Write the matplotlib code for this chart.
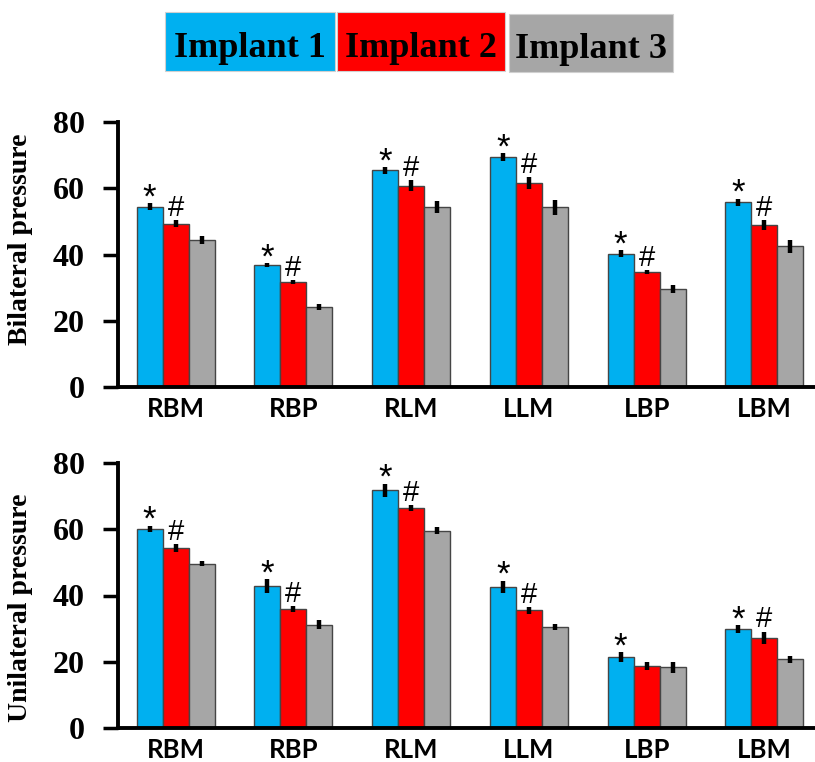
import numpy as np
import matplotlib.pyplot as plt
from matplotlib.patches import Rectangle

categories = ["RBM", "RBP", "RLM", "LLM", "LBP", "LBM"]
series = ["Implant 1", "Implant 2", "Implant 3"]

# bilateral pressure (top panel)
bi_imp1 = [54.4, 36.7, 65.4, 69.4, 40.3, 55.7]
bi_imp2 = [49.3, 31.7, 60.8, 61.6, 34.6, 48.8]
bi_imp3 = [44.4, 24.1, 54.3, 54.3, 29.5, 42.5]
bi_err1 = [1.1, 0.6, 1.0, 1.1, 1.0, 1.2]
bi_err2 = [1.0, 0.7, 1.6, 1.7, 0.6, 1.5]
bi_err3 = [1.1, 1.0, 1.8, 2.3, 1.2, 1.9]
bi_star = [1, 1, 1, 1, 1, 1]
bi_hash = [1, 1, 1, 1, 1, 1]

# unilateral pressure (bottom panel)
uni_imp1 = [60.1, 42.8, 71.8, 42.6, 21.4, 29.9]
uni_imp2 = [54.3, 35.9, 66.4, 35.5, 18.7, 27.2]
uni_imp3 = [49.6, 31.2, 59.6, 30.5, 18.3, 20.7]
uni_err1 = [1.0, 2.1, 2.0, 1.9, 1.5, 1.1]
uni_err2 = [1.2, 0.8, 1.0, 1.0, 1.2, 1.9]
uni_err3 = [0.7, 1.3, 1.0, 1.0, 1.6, 1.1]
uni_star = [1, 1, 1, 1, 1, 1]
uni_hash = [1, 1, 1, 1, 0, 1]

colors = ["#00B0F0", "#FF0000", "#A6A6A6"]
edge = "#454545"
serif = "Liberation Serif"
sans = "Lato"

W, H = 815, 762
fig = plt.figure(figsize=(W / 100, H / 100), dpi=100)

def draw_panel(ax, vals, errs, stars, hashes, ylabel, label_y):
    x = np.arange(len(categories))
    w = 0.221
    for k in range(3):
        ax.bar(x + (k - 1) * w, vals[k], w, color=colors[k], edgecolor=edge,
               linewidth=1.0, zorder=2)
        ax.errorbar(x + (k - 1) * w, vals[k], yerr=errs[k], fmt="none",
                    ecolor="black", elinewidth=3.2, capsize=0, zorder=3)
    for i in range(len(categories)):
        if stars[i]:
            ax.annotate("*", (x[i] - w, vals[0][i] + errs[0][i]), xytext=(0, -3),
                        textcoords="offset points", ha="center", va="baseline",
                        fontsize=25, family="Liberation Sans")
        if hashes[i]:
            ax.annotate("#", (x[i], vals[1][i] + errs[1][i]), xytext=(0, 3),
                        textcoords="offset points", ha="center", va="baseline",
                        fontsize=21, family="Liberation Sans")
    ax.set_xlim(-0.49, 5.43)
    ax.set_ylim(0, 80)
    ax.set_yticks([0, 20, 40, 60, 80])
    ax.set_xticks(x)
    ax.set_xticklabels(categories, fontsize=18.5, fontweight="bold", family=sans)
    for t in ax.get_yticklabels():
        t.set_fontsize(23)
        t.set_fontweight("bold")
        t.set_family(serif)
    ax.tick_params(axis="x", length=0, pad=7)
    ax.tick_params(axis="y", length=11, width=2.5, pad=13, direction="out")
    ax.spines["top"].set_visible(False)
    ax.spines["right"].set_visible(False)
    ax.spines["left"].set_linewidth(2.8)
    ax.spines["bottom"].set_linewidth(2.8)
    ax.set_ylabel(ylabel, fontsize=20, fontweight="bold", family=serif)
    ax.yaxis.set_label_coords(-0.122, label_y)

ax1 = fig.add_axes([118 / W, 1 - 387 / H, 1 - 118 / W, 265 / H])
draw_panel(ax1, [bi_imp1, bi_imp2, bi_imp3], [bi_err1, bi_err2, bi_err3],
           bi_star, bi_hash, "Bilateral pressure", 0.557)

ax2 = fig.add_axes([118 / W, 1 - 728 / H, 1 - 118 / W, 265 / H])
draw_panel(ax2, [uni_imp1, uni_imp2, uni_imp3], [uni_err1, uni_err2, uni_err3],
           uni_star, uni_hash, "Unilateral pressure", 0.455)

# legend boxes at the top
boxes = [(165, 12, 170, 59, 57), (337, 12, 168, 59, 57), (509, 14, 164, 58, 58)]
for (bx, by, bw, bh, base), c, lab in zip(boxes, colors, series):
    fig.patches.append(Rectangle((bx / W, 1 - (by + bh) / H), bw / W, bh / H,
                                 transform=fig.transFigure, facecolor=c,
                                 edgecolor="#d0d0d0", linewidth=0.8))
    fig.text((bx + bw / 2) / W, 1 - base / H, lab, ha="center",
             va="baseline", fontsize=26, fontweight="bold", family=serif)

fig.savefig("out.png", dpi=100)
